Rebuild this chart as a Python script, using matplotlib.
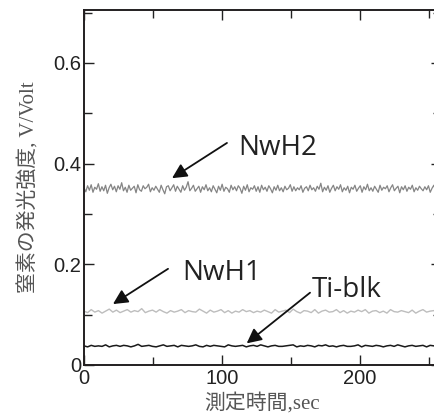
import numpy as np
import matplotlib
matplotlib.use("Agg")
import matplotlib.pyplot as plt
from matplotlib.ticker import MultipleLocator

# ---- data ----
t_end = 258.7
nwh2 = [0.352,0.344,0.356,0.347,0.358,0.343,0.353,0.349,0.360,0.345,
        0.354,0.346,0.357,0.341,0.352,0.359,0.348,0.355,0.344,0.356,
        0.349,0.362,0.346,0.353,0.343,0.357,0.347,0.351,0.355,0.342,
        0.358,0.348,0.345,0.356,0.350,0.353,0.359,0.344,0.352,0.347,
        0.355,0.349,0.343,0.357,0.348,0.340,0.354,0.356,0.346,0.352,
        0.358,0.345,0.355,0.349,0.343,0.356,0.347,0.353,0.364,0.346,
        0.351,0.357,0.345,0.350,0.355,0.343,0.354,0.348,0.358,0.346,
        0.352,0.344,0.356,0.349,0.342,0.355,0.347,0.359,0.345,0.353,
        0.350,0.343,0.357,0.348,0.354,0.346,0.356,0.351,0.341,0.355,
        0.347,0.358,0.344,0.352,0.349,0.356,0.345,0.354,0.343,0.357,
        0.348,0.353,0.345,0.356,0.350,0.342,0.354,0.347,0.357,0.346,
        0.352,0.344,0.355,0.348,0.351,0.358,0.345,0.354,0.346,0.352,
        0.348,0.356,0.343,0.351,0.354,0.346,0.357,0.348,0.352,0.345,
        0.355,0.349,0.361,0.344,0.353,0.347,0.356,0.343,0.351,0.357,
        0.346,0.354,0.349,0.358,0.344,0.352,0.347,0.355,0.342,0.353,
        0.349,0.357,0.345,0.351,0.356,0.343,0.354,0.348,0.359,0.346,
        0.352,0.345,0.355,0.349,0.343,0.357,0.347,0.353,0.350,0.356,
        0.344,0.352,0.358,0.346,0.351,0.355,0.342,0.354,0.348,0.356,
        0.345,0.353,0.349,0.357,0.344,0.352,0.347,0.355,0.350,0.346,
        0.354,0.348,0.356,0.343,0.351,0.357,0.346,0.353,0.349,0.352]
nwh1 = [0.107,0.104,0.110,0.105,0.108,0.103,0.107,0.111,0.105,0.109,
        0.104,0.107,0.110,0.105,0.108,0.106,0.112,0.104,0.107,0.109,
        0.105,0.110,0.106,0.103,0.108,0.105,0.107,0.110,0.104,0.108,
        0.106,0.105,0.111,0.107,0.103,0.109,0.105,0.107,0.110,0.104,
        0.108,0.103,0.107,0.105,0.110,0.106,0.108,0.104,0.107,0.105,
        0.109,0.106,0.103,0.110,0.105,0.107,0.109,0.104,0.111,0.106,
        0.103,0.108,0.107,0.104,0.110,0.103,0.107,0.109,0.105,0.106,
        0.110,0.104,0.108,0.103,0.107,0.105,0.109,0.106,0.110,0.103,
        0.107,0.108,0.104,0.107,0.103,0.110,0.106,0.105,0.108,0.106,
        0.104,0.109,0.103,0.107,0.110,0.105,0.107,0.108,0.104,0.106]
tiblk = [0.038,0.036,0.039,0.037,0.038,0.037,0.040,0.036,0.038,0.039,
         0.037,0.039,0.038,0.036,0.038,0.041,0.037,0.038,0.039,0.037,
         0.036,0.038,0.040,0.037,0.038,0.039,0.036,0.039,0.038,0.037,
         0.038,0.040,0.037,0.036,0.039,0.037,0.039,0.038,0.037,0.036,
         0.040,0.038,0.037,0.038,0.039,0.036,0.038,0.039,0.037,0.040,
         0.038,0.036,0.038,0.039,0.037,0.037,0.038,0.039,0.040,0.036,
         0.038,0.037,0.039,0.038,0.036,0.039,0.038,0.040,0.037,0.038,
         0.036,0.038,0.039,0.037,0.037,0.038,0.040,0.036,0.039,0.038,
         0.037,0.039,0.038,0.036,0.038,0.039,0.037,0.040,0.038,0.036,
         0.038,0.039,0.037,0.038,0.039,0.036,0.039,0.038,0.037,0.038]
xticks = [0, 100, 200]
yticks = [0, 0.2, 0.4, 0.6]
ytick_labels = ["0", "0.2", "0.4", "0.6"]
xlabel = "測定時間,sec"
ylabel = "窒素の発光強度, V/Volt"

fig = plt.figure(figsize=(4.35, 4.17), dpi=100)
ax = fig.add_axes([84/435, 52/417, 357/435, 355/417])

def times(vals):
    return np.linspace(0, t_end, len(vals))

ax.plot(times(nwh2), nwh2, color="#858585", lw=0.9)
ax.plot(times(nwh1), nwh1, color="#bdbdbd", lw=1.0)
ax.plot(times(tiblk), tiblk, color="#1a1a1a", lw=1.1)

ax.set_xlim(0, t_end)
ax.set_ylim(0, 0.705)
ax.set_xticks(xticks)
ax.set_yticks(yticks)
ax.set_yticklabels(ytick_labels)
ax.xaxis.set_minor_locator(MultipleLocator(50))
ax.yaxis.set_minor_locator(MultipleLocator(0.1))
ax.tick_params(which="both", direction="in", top=True, right=True,
               labelsize=14.5, colors="#222222", width=1.0)
ax.tick_params(which="major", length=7.5)
ax.tick_params(which="minor", length=6)
ax.tick_params(axis="x", pad=3)
ax.tick_params(axis="y", pad=2)
for lbl in ax.get_xticklabels() + ax.get_yticklabels():
    lbl.set_family("Liberation Sans")
for s in ax.spines.values():
    s.set_linewidth(1.4)
    s.set_color("#231f20")

lab_font = ["Liberation Serif", "Noto Sans CJK JP"]
ax.set_xlabel(xlabel, family=lab_font, fontsize=15, color="#555555", labelpad=3)
ax.set_ylabel(ylabel, family=lab_font, fontsize=15, color="#555555", labelpad=10)

ann = dict(arrowstyle="-|>", color="#111111", lw=1.3, mutation_scale=22, shrinkA=0, shrinkB=0)
tfont = dict(fontsize=20, family="Open Sans", color="#222222", va="baseline", ha="left")
ax.text(111.6, 0.417, "NwH2", **tfont)
ax.annotate("", xy=(63.8, 0.371), xytext=(103.6, 0.441), arrowprops=ann)
ax.text(71.0, 0.169, "NwH1", **tfont)
ax.annotate("", xy=(21.0, 0.121), xytext=(60.9, 0.191), arrowprops=ann)
ax.text(165.2, 0.136, "Ti-blk", **tfont)
ax.annotate("", xy=(117.9, 0.043), xytext=(163.8, 0.1436), arrowprops=ann)

fig.savefig("out.png", dpi=100)
